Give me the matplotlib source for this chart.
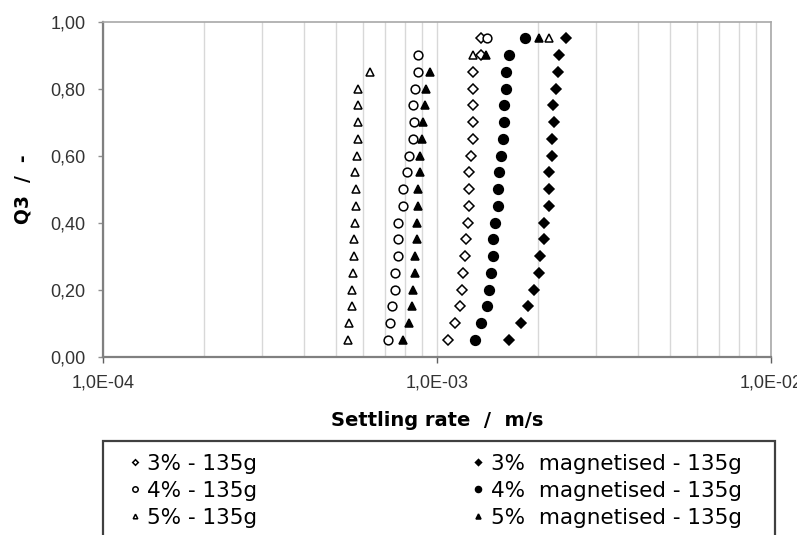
import matplotlib

matplotlib.use("Agg")  # Use non-interactive backend
from matplotlib import pyplot as plt
from matplotlib.patches import Rectangle
from matplotlib.ticker import LogLocator, NullFormatter, FixedLocator, FuncFormatter

plt.rcParams["font.family"] = ["Liberation Sans", "DejaVu Sans"]

# Cumulative fraction Q3 and settling rates (m/s)
q3 = [0.05, 0.10, 0.15, 0.20, 0.25, 0.30, 0.35, 0.40, 0.45, 0.50,
      0.55, 0.60, 0.65, 0.70, 0.75, 0.80, 0.85, 0.90, 0.95]

rate_3 = [1.077e-3, 1.136e-3, 1.168e-3, 1.190e-3, 1.195e-3, 1.217e-3, 1.223e-3,
          1.236e-3, 1.251e-3, 1.245e-3, 1.245e-3, 1.266e-3, 1.280e-3, 1.280e-3,
          1.280e-3, 1.286e-3, 1.286e-3, 1.356e-3, 1.359e-3]
rate_4 = [0.712e-3, 0.721e-3, 0.734e-3, 0.751e-3, 0.751e-3, 0.763e-3, 0.763e-3,
          0.763e-3, 0.790e-3, 0.790e-3, 0.812e-3, 0.827e-3, 0.847e-3, 0.851e-3,
          0.847e-3, 0.857e-3, 0.877e-3, 0.877e-3, 1.416e-3]
rate_5 = [0.541e-3, 0.547e-3, 0.555e-3, 0.557e-3, 0.562e-3, 0.566e-3, 0.566e-3,
          0.570e-3, 0.573e-3, 0.573e-3, 0.570e-3, 0.575e-3, 0.579e-3, 0.579e-3,
          0.579e-3, 0.579e-3, 0.628e-3, 1.280e-3, 2.160e-3]
rate_3m = [1.648e-3, 1.786e-3, 1.879e-3, 1.950e-3, 2.018e-3, 2.028e-3, 2.089e-3,
           2.089e-3, 2.161e-3, 2.171e-3, 2.161e-3, 2.213e-3, 2.213e-3, 2.233e-3,
           2.222e-3, 2.274e-3, 2.300e-3, 2.316e-3, 2.427e-3]
rate_4m = [1.301e-3, 1.356e-3, 1.413e-3, 1.436e-3, 1.453e-3, 1.469e-3, 1.469e-3,
           1.493e-3, 1.528e-3, 1.521e-3, 1.538e-3, 1.556e-3, 1.574e-3, 1.582e-3,
           1.592e-3, 1.604e-3, 1.604e-3, 1.648e-3, 1.828e-3]
rate_5m = [0.790e-3, 0.827e-3, 0.843e-3, 0.847e-3, 0.857e-3, 0.857e-3, 0.870e-3,
           0.870e-3, 0.876e-3, 0.876e-3, 0.891e-3, 0.891e-3, 0.903e-3, 0.907e-3,
           0.918e-3, 0.928e-3, 0.954e-3, 1.400e-3, 2.020e-3]

series = [
    (rate_3, "3% - 135g", "D", "white", 4.6),
    (rate_4, "4% - 135g", "o", "white", 6.3),
    (rate_5, "5% - 135g", "^", "white", 5.3),
    (rate_3m, "3%  magnetised - 135g", "D", "black", 5.0),
    (rate_4m, "4%  magnetised - 135g", "o", "black", 7.0),
    (rate_5m, "5%  magnetised - 135g", "^", "black", 5.8),
]

fig = plt.figure(figsize=(7.97, 5.35), dpi=100)
ax = fig.add_axes([0.1292, 0.3333, 0.8382, 0.6261])

for rates, label, marker, face, size in series:
    ax.plot(rates, q3, linestyle="none", marker=marker, markersize=size,
            markerfacecolor=face, markeredgecolor="black", markeredgewidth=1.1,
            label=label)

ax.set_xscale("log")
ax.set_xlim(1e-4, 1e-2)
ax.set_ylim(0, 1)

# Axis ticks and grid
ax.xaxis.set_major_locator(FixedLocator([1e-4, 1e-3, 1e-2]))
ax.xaxis.set_major_formatter(FuncFormatter(lambda v, p: f"{v:.1E}".replace(".", ",")))
ax.xaxis.set_minor_locator(LogLocator(base=10, subs=range(2, 10), numticks=20))
ax.xaxis.set_minor_formatter(NullFormatter())
ax.set_yticks([0, 0.2, 0.4, 0.6, 0.8, 1.0])
ax.yaxis.set_major_formatter(FuncFormatter(lambda v, p: f"{v:.2f}".replace(".", ",")))

ax.grid(True, which="both", axis="x", color="#d8d8d8", linewidth=1.0)
ax.set_axisbelow(True)
ax.tick_params(axis="x", which="major", length=4, width=1, color="#606060",
               pad=9, labelsize=13, labelcolor="#333333")
ax.tick_params(axis="x", which="minor", length=0)
ax.tick_params(axis="y", length=3.6, width=1, color="#909090", pad=9,
               labelsize=13, labelcolor="#333333")

for side in ["left", "bottom"]:
    ax.spines[side].set_color("#808080")
    ax.spines[side].set_linewidth(1.6)
for side in ["top", "right"]:
    ax.spines[side].set_color("#a8a8a8")
    ax.spines[side].set_linewidth(1.2)

ax.set_xlabel("Settling rate  /  m/s", fontsize=14, fontweight="bold",
              family=["DejaVu Sans"], labelpad=14)
ax.set_ylabel("Q3  /  -", fontsize=13.5, fontweight="bold",
              family=["DejaVu Sans"], labelpad=13)

# Legend frame spans the axes width and runs off the bottom of the figure
fig.patches.append(Rectangle((0.1292, -0.1), 0.8432, 0.2757, transform=fig.transFigure,
                             facecolor="white", edgecolor="#404040", linewidth=1.6,
                             zorder=0))
fig.legend(loc="upper left", bbox_to_anchor=(0.1594, 0.0, 0.7716, 0.152),
           mode="expand", ncol=2, prop={"family": ["DejaVu Sans"], "size": 15.5},
           frameon=False, handlelength=0.7, handletextpad=0.25, labelspacing=0.33,
           borderpad=0.0, borderaxespad=0.0, markerscale=0.62, columnspacing=1.0)

fig.savefig("out.png", dpi=100)
plt.close(fig)
